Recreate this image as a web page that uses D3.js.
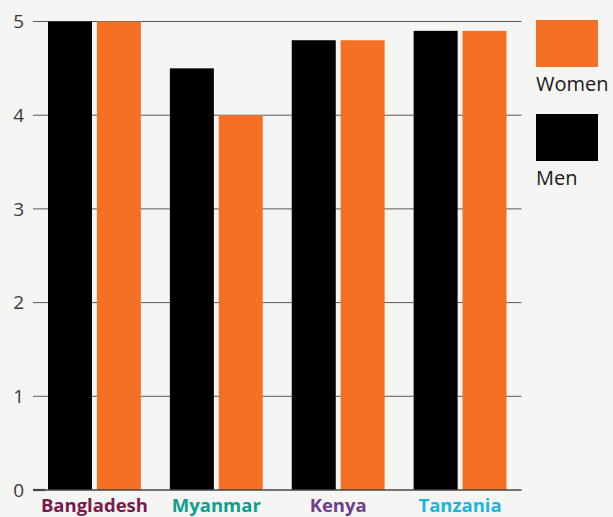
<!DOCTYPE html>
<html><head><meta charset="utf-8">
<script src="https://cdn.jsdelivr.net/npm/d3@7"></script>
<style>html,body{margin:0;padding:0;background:#f5f5f3;}svg{display:block;}</style>
</head><body>
<script>
const countries = ["Bangladesh","Myanmar","Kenya","Tanzania"];
const countryColors = ["#7a1a4a","#0e9e8e","#6e3f8e","#19b4e0"];
const men = [5, 4.5, 4.8, 4.9];
const women = [5, 4.0, 4.8, 4.9];
const seriesNames = ["Men","Women"];
const seriesColors = ["#000000","#f47024"];
const yTicks = [0,1,2,3,4,5];

const W = 613, H = 517;
const svg = d3.select("body").append("svg").attr("width",W).attr("height",H);
svg.append("rect").attr("width",W).attr("height",H).attr("fill","#f5f5f3");

const x0 = d3.scaleBand().domain(countries).range([33,521.5]).paddingInner(0.238).paddingOuter(0.123);
const x1 = d3.scaleBand().domain(seriesNames).range([0,x0.bandwidth()]).paddingInner(0.1);
const y = d3.scaleLinear().domain([0,5]).range([490,21.5]);

// gridlines
svg.append("g").selectAll("line").data(yTicks.filter(d=>d>0)).join("line")
  .attr("x1",33).attr("x2",521.5).attr("y1",d=>y(d)).attr("y2",d=>y(d))
  .attr("stroke","#5a5a5a").attr("stroke-width",1);

// tick labels
svg.append("g").selectAll("text").data(yTicks).join("text")
  .attr("x",24).attr("y",d=>y(d)).attr("dy","0.35em").attr("text-anchor","end")
  .attr("font-family","Open Sans, sans-serif").attr("font-size",19).attr("fill","#3a3a3a")
  .text(d=>d);

// bars
const data = countries.map((c,i)=>({c, vals:[{s:"Men",v:men[i]},{s:"Women",v:women[i]}]}));
const g = svg.append("g").selectAll("g").data(data).join("g")
  .attr("transform",d=>`translate(${x0(d.c)},0)`);
g.selectAll("rect").data(d=>d.vals).join("rect")
  .attr("x",d=>x1(d.s)).attr("width",x1.bandwidth())
  .attr("y",d=>y(d.v)).attr("height",d=>y(0)-y(d.v))
  .attr("fill",d=>seriesColors[seriesNames.indexOf(d.s)]);

// baseline
svg.append("line").attr("x1",33).attr("x2",521.5).attr("y1",y(0)).attr("y2",y(0))
  .attr("stroke","#444").attr("stroke-width",1.6);
svg.append("line").attr("x1",33).attr("x2",45).attr("y1",y(0)).attr("y2",y(0))
  .attr("stroke","#444").attr("stroke-width",2.2);

// category labels
svg.append("g").selectAll("text").data(countries).join("text")
  .attr("x",d=>x0(d)+x0.bandwidth()/2).attr("y",512)
  .attr("text-anchor","middle")
  .attr("font-family","Open Sans, sans-serif").attr("font-weight","bold").attr("font-size",18.5)
  .attr("fill",(d,i)=>countryColors[i]).text(d=>d);

// legend
const legend = [{s:"Women",y:20},{s:"Men",y:114}];
const lg = svg.append("g").selectAll("g").data(legend).join("g");
lg.append("rect").attr("x",536).attr("y",d=>d.y).attr("width",62).attr("height",47)
  .attr("fill",d=>seriesColors[seriesNames.indexOf(d.s)]);
lg.append("text").attr("x",536).attr("y",d=>d.y+71)
  .attr("font-family","Open Sans, sans-serif").attr("font-size",20).attr("fill","#1a1a1a")
  .text(d=>d.s);
</script>
</body></html>
